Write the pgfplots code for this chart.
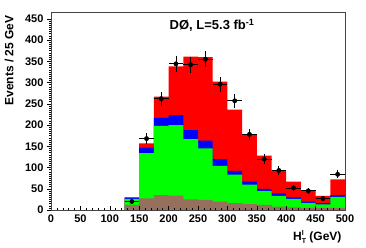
\documentclass[border=0pt]{standalone}
\usepackage{fontspec}
\setmainfont{Liberation Sans}
\usepackage{pgfplots}
\pgfplotsset{compat=1.18}
\definecolor{rootred}{RGB}{255,0,0}
\definecolor{rootblue}{RGB}{0,0,255}
\definecolor{rootgreen}{RGB}{0,255,0}
\definecolor{rootbrown}{RGB}{150,112,92}
\definecolor{framegray}{RGB}{70,70,70}
\begin{document}
\begin{tikzpicture}
\begin{axis}[
  scale only axis,
  width=294pt, height=198pt,
  xmin=0, xmax=500, ymin=0, ymax=466,
  axis line style={framegray, line width=0.8pt},
  xtick={0,50,...,500},
  ytick={0,50,...,450},
  minor x tick num=4,
  minor y tick num=9,
  xtick pos=bottom, ytick pos=left,
  tick align=outside,
  xtick align=inside,
  major tick length=4pt, minor tick length=2pt,
  tick style={black, line width=0.5pt},
  /pgf/number format/assume math mode=true,
  ticklabel style={font=\fontsize{11}{13}\selectfont\bfseries},
  xticklabel style={yshift=-1pt},
  ylabel={Events / 25 GeV},
  ylabel style={at={(rel axis cs:-0.115,1)}, anchor=south east, font=\fontsize{12}{14}\selectfont\bfseries},
  xlabel={H\raisebox{-2.5pt}{\fontsize{7}{6}\selectfont\shortstack[l]{l\\T}} (GeV)},
  xlabel style={at={(rel axis cs:1,-0.085)}, anchor=north east, font=\fontsize{12}{14}\selectfont\bfseries},
  clip=false,
  axis on top,
]
% red (total)
\addplot[const plot, fill=rootred, draw=none] coordinates {
(125,30) (150,157) (175,267) (200,338) (225,361) (250,360) (275,302) (300,236) (325,176) (350,128) (375,93) (400,67) (425,46) (450,33) (475,72) (500,72)} \closedcycle;
% blue
\addplot[const plot, fill=rootblue, draw=none] coordinates {
(125,29) (150,147) (175,217) (200,223) (225,188) (250,163) (275,120) (300,92) (325,67) (350,50) (375,39) (400,30) (425,20) (450,16) (475,35) (500,35)} \closedcycle;
% green
\addplot[const plot, fill=rootgreen, draw=none] coordinates {
(125,26) (150,134) (175,198) (200,200) (225,167) (250,145) (275,104) (300,83) (325,60) (350,45) (375,33) (400,26) (425,17) (450,13) (475,31) (500,31)} \closedcycle;
% brown
\addplot[const plot, fill=rootbrown, draw=none] coordinates {
(125,12) (150,27.5) (175,35) (200,34) (225,25) (250,24) (275,20) (300,16) (325,14) (350,12) (375,8) (400,6) (425,5) (450,5) (475,5) (500,5)} \closedcycle;
% data
\addplot[only marks, mark=*, mark size=2.2pt, black,
  error bars/.cd, x dir=both, x explicit, y dir=both, y explicit,
  error mark=none, error bar style={black, line width=0.8pt}]
coordinates {
(137.5,20) +- (12.5,4.5)
(162.5,168) +- (12.5,13)
(187.5,262) +- (12.5,16.2)
(212.5,344) +- (12.5,18.5)
(237.5,342) +- (12.5,18.5)
(262.5,355) +- (12.5,18.8)
(287.5,296) +- (12.5,17.2)
(312.5,257) +- (12.5,16)
(337.5,178) +- (12.5,13.3)
(362.5,120) +- (12.5,11)
(387.5,93) +- (12.5,9.6)
(412.5,52) +- (12.5,7.2)
(437.5,45) +- (12.5,6.7)
(462.5,27) +- (12.5,5.2)
(487.5,84) +- (12.5,9.2)
};
\node[font=\fontsize{13}{15}\selectfont\bfseries] at (rel axis cs:0.548,0.934) {DØ, L=5.3 fb\textsuperscript{-1}};
\path (rel axis cs:-0.1735,-0.1919) rectangle (rel axis cs:1.0714,1.0606);
\end{axis}
\end{tikzpicture}
\end{document}
